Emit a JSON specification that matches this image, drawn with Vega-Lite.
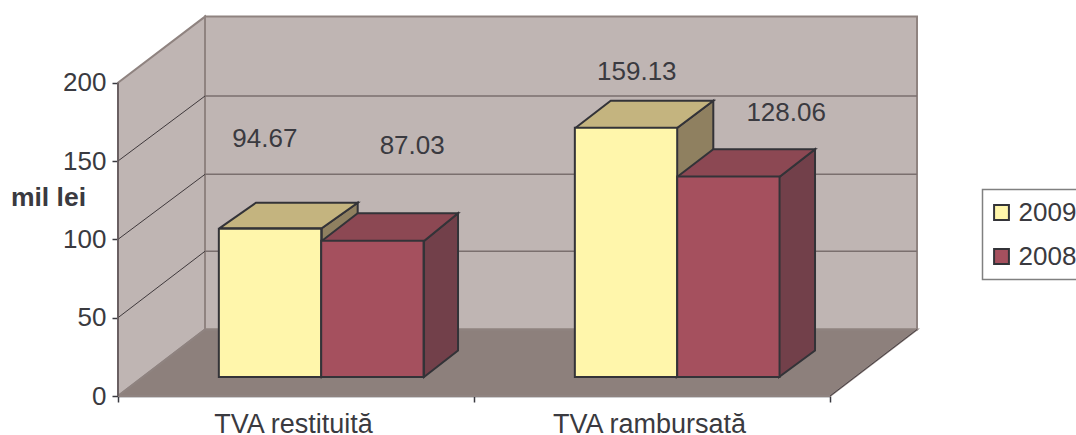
{
"$schema":"https://vega.github.io/schema/vega-lite/v6.json",
"width":799,"height":380,
"autosize":{"type":"none"},
"padding":{"left":118,"top":16,"right":159,"bottom":39},
"background":"white",
"config":{"view":{"stroke":null},"font":"Liberation Sans","text":{"font":"Liberation Sans"},"legend":{"strokeWidth":1.5}},
"datasets":{
"bars":[
{"category":"TVA restituită","series":"2009","value":94.67},
{"category":"TVA restituită","series":"2008","value":87.03},
{"category":"TVA rambursată","series":"2009","value":159.13},
{"category":"TVA rambursată","series":"2008","value":128.06}],
"walls":[
{"shape":"left","kind":"wall","seq":1,"u":0,"v":0},{"shape":"left","kind":"wall","seq":2,"u":0.2444,"v":42.45},{"shape":"left","kind":"wall","seq":3,"u":0.2444,"v":242.2},{"shape":"left","kind":"wall","seq":4,"u":0,"v":200},{"shape":"left","kind":"wall","seq":5,"u":0,"v":0},
{"shape":"back","kind":"wall","seq":1,"u":0.2444,"v":42.45},{"shape":"back","kind":"wall","seq":2,"u":0.2444,"v":242.2},{"shape":"back","kind":"wall","seq":3,"u":2.2444,"v":242.2},{"shape":"back","kind":"wall","seq":4,"u":2.2444,"v":42.45},{"shape":"back","kind":"wall","seq":5,"u":0.2444,"v":42.45},
{"shape":"floor","kind":"floor","seq":1,"u":0,"v":0},{"shape":"floor","kind":"floor","seq":2,"u":0.2444,"v":42.45},{"shape":"floor","kind":"floor","seq":3,"u":2.2444,"v":42.45},{"shape":"floor","kind":"floor","seq":4,"u":2,"v":0},{"shape":"floor","kind":"floor","seq":5,"u":0,"v":0}],
"sideGrid":[
{"line":"50","seq":1,"u":0,"v":50},{"line":"50","seq":2,"u":0.2444,"v":92.4},
{"line":"100","seq":1,"u":0,"v":100},{"line":"100","seq":2,"u":0.2444,"v":141.5},
{"line":"150","seq":1,"u":0,"v":150},{"line":"150","seq":2,"u":0.2444,"v":191.5}],
"backGrid":[
{"line":"50","seq":1,"u":0.2444,"v":92.4},{"line":"50","seq":2,"u":2.2444,"v":92.4},
{"line":"100","seq":1,"u":0.2444,"v":141.5},{"line":"100","seq":2,"u":2.2444,"v":141.5},
{"line":"150","seq":1,"u":0.2444,"v":191.5},{"line":"150","seq":2,"u":2.2444,"v":191.5}],
"faces":[
{"face":"b1side","kind":"yside","seq":1,"u":0.5722,"v":107.05},{"face":"b1side","kind":"yside","seq":2,"u":0.6733,"v":123.4},{"face":"b1side","kind":"yside","seq":3,"u":0.6733,"v":29.05},{"face":"b1side","kind":"yside","seq":4,"u":0.5722,"v":12.13},{"face":"b1side","kind":"yside","seq":5,"u":0.5722,"v":107.05},
{"face":"b1top","kind":"ytop","seq":1,"u":0.2846,"v":107.05},{"face":"b1top","kind":"ytop","seq":2,"u":0.3876,"v":123.4},{"face":"b1top","kind":"ytop","seq":3,"u":0.6733,"v":123.4},{"face":"b1top","kind":"ytop","seq":4,"u":0.5722,"v":107.05},{"face":"b1top","kind":"ytop","seq":5,"u":0.2846,"v":107.05},
{"face":"b2side","kind":"rside","seq":1,"u":0.8596,"v":98.95},{"face":"b2side","kind":"rside","seq":2,"u":0.9551,"v":116.63},{"face":"b2side","kind":"rside","seq":3,"u":0.9551,"v":29.05},{"face":"b2side","kind":"rside","seq":4,"u":0.8596,"v":12.13},{"face":"b2side","kind":"rside","seq":5,"u":0.8596,"v":98.95},
{"face":"b2top","kind":"rtop","seq":1,"u":0.5722,"v":98.95},{"face":"b2top","kind":"rtop","seq":2,"u":0.6733,"v":116.63},{"face":"b2top","kind":"rtop","seq":3,"u":0.9551,"v":116.63},{"face":"b2top","kind":"rtop","seq":4,"u":0.8596,"v":98.95},{"face":"b2top","kind":"rtop","seq":5,"u":0.5722,"v":98.95},
{"face":"b3side","kind":"yside","seq":1,"u":1.5694,"v":170.9},{"face":"b3side","kind":"yside","seq":2,"u":1.6722,"v":188.5},{"face":"b3side","kind":"yside","seq":3,"u":1.6722,"v":29.05},{"face":"b3side","kind":"yside","seq":4,"u":1.5694,"v":12.13},{"face":"b3side","kind":"yside","seq":5,"u":1.5694,"v":170.9},
{"face":"b3top","kind":"ytop","seq":1,"u":1.2837,"v":170.9},{"face":"b3top","kind":"ytop","seq":2,"u":1.384,"v":188.5},{"face":"b3top","kind":"ytop","seq":3,"u":1.6722,"v":188.5},{"face":"b3top","kind":"ytop","seq":4,"u":1.5694,"v":170.9},{"face":"b3top","kind":"ytop","seq":5,"u":1.2837,"v":170.9},
{"face":"b4side","kind":"rside","seq":1,"u":1.8567,"v":139.6},{"face":"b4side","kind":"rside","seq":2,"u":1.9579,"v":157.5},{"face":"b4side","kind":"rside","seq":3,"u":1.9579,"v":29.05},{"face":"b4side","kind":"rside","seq":4,"u":1.8567,"v":12.13},{"face":"b4side","kind":"rside","seq":5,"u":1.8567,"v":139.6},
{"face":"b4top","kind":"rtop","seq":1,"u":1.5694,"v":139.6},{"face":"b4top","kind":"rtop","seq":2,"u":1.6722,"v":157.5},{"face":"b4top","kind":"rtop","seq":3,"u":1.9579,"v":157.5},{"face":"b4top","kind":"rtop","seq":4,"u":1.8567,"v":139.6},{"face":"b4top","kind":"rtop","seq":5,"u":1.5694,"v":139.6}]
},
"resolve":{"scale":{"x":"independent"},"axis":{"x":"independent"}},
"layer":[
{"layer":[
{"data":{"name":"walls"},"mark":{"type":"line","stroke":"#8F8380","strokeWidth":2,"strokeJoin":"miter"},
"encoding":{
"x":{"field":"u","type":"quantitative","scale":{"domain":[0,2.24438],"nice":false,"zero":false},"axis":null},
"y":{"field":"v","type":"quantitative","scale":{"domain":[0,242.58],"nice":false},
"axis":{"values":[0,50,100,150,200],"grid":false,"domain":false,"tickSize":6,"tickColor":"#3A3A40","tickWidth":1.5,"labelFontSize":26,"labelFont":"Liberation Sans","labelColor":"#3A3A40","labelPadding":6,"title":"mil lei","titleAngle":0,"titleFont":"Liberation Sans","titleFontSize":26.5,"titleFontWeight":"bold","titleColor":"#3A3A40","titleX":-70,"titleY":181,"titleAlign":"center","titleBaseline":"middle"}},
"order":{"field":"seq","type":"quantitative"},
"detail":{"field":"shape"},
"fill":{"field":"kind","type":"nominal","scale":{"domain":["wall","floor","yside","ytop","rside","rtop"],"range":["#BFB5B3","#8D807C","#8F8060","#C4B47F","#72404A","#8C4853"]},"legend":null}}},
{"data":{"name":"sideGrid"},"mark":{"type":"line","stroke":"#3F393C","strokeWidth":1},
"encoding":{"x":{"field":"u","type":"quantitative"},"y":{"field":"v","type":"quantitative"},"order":{"field":"seq","type":"quantitative"},"detail":{"field":"line"}}},
{"data":{"name":"backGrid"},"mark":{"type":"line","stroke":"#7A6F6E","strokeWidth":1.5},
"encoding":{"x":{"field":"u","type":"quantitative"},"y":{"field":"v","type":"quantitative"},"order":{"field":"seq","type":"quantitative"},"detail":{"field":"line"}}},
{"data":{"values":[{"u":0,"v":0},{"u":0,"v":200}]},"mark":{"type":"line","stroke":"#5E5558","strokeWidth":1.5},
"encoding":{"x":{"field":"u","type":"quantitative"},"y":{"field":"v","type":"quantitative"}}},
{"data":{"values":[{"u":2,"v":0},{"u":2.2444,"v":42.45}]},"mark":{"type":"line","stroke":"#4A4245","strokeWidth":1},
"encoding":{"x":{"field":"u","type":"quantitative"},"y":{"field":"v","type":"quantitative"}}},
{"data":{"name":"faces"},"mark":{"type":"line","stroke":"#333338","strokeWidth":2,"strokeJoin":"miter"},
"encoding":{"x":{"field":"u","type":"quantitative"},"y":{"field":"v","type":"quantitative"},
"order":{"field":"seq","type":"quantitative"},
"detail":{"field":"face"},
"fill":{"field":"kind","type":"nominal","legend":null}}}
]},
{"data":{"name":"bars"},"mark":{"type":"rule","opacity":0},
"encoding":{"x":{"field":"category","type":"nominal","sort":["TVA restituită","TVA rambursată"],
"scale":{"range":[0,712],"paddingInner":0,"paddingOuter":0},
"axis":{"orient":"bottom","title":null,"labelAngle":0,"tickBand":"extent","tickSize":6,"tickColor":"#3A3A40","tickWidth":1.5,"domainColor":"#3A3A40","domainWidth":1.5,"labelFontSize":27,"labelFont":"Liberation Sans","labelColor":"#3A3A40","labelPadding":9,"labelOffset":-3,"labelLimit":320,"grid":false}}}},
{"data":{"name":"bars"},
"encoding":{
"x":{"field":"category","type":"nominal","sort":["TVA restituită","TVA rambursată"],
"scale":{"range":[25.2,737.2],"paddingInner":0.425,"paddingOuter":0.2125},"axis":null},
"xOffset":{"field":"series","type":"nominal","sort":["2009","2008"]},
"y":{"field":"value","type":"quantitative"}},
"layer":[
{"mark":{"type":"bar","stroke":"#333338","strokeWidth":2,"yOffset":-19,"y2Offset":-19},
"encoding":{"color":{"field":"series","type":"nominal","scale":{"domain":["2009","2008"],"range":["#FFF6AB","#A5505E"]},
"legend":{"title":null,"orient":"none","legendX":864.5,"legendY":173.5,"symbolType":"square","symbolSize":220,"symbolStrokeColor":"#333338","symbolStrokeWidth":2,"symbolOpacity":1,"symbolOffset":-4,"labelFontSize":26,"labelFont":"Liberation Sans","labelColor":"#3A3A40","labelOffset":4,"rowPadding":18,"padding":10,"strokeColor":"#808080","fillColor":"white"}}}},
{"transform":[{"filter":"datum.series=='2009' && datum.category=='TVA restituită'"}],"mark":{"type":"text","fontSize":26,"color":"#3A3A40","baseline":"middle","dx":-5.2,"dy":-109},"encoding":{"text":{"field":"value","format":".2f"}}},
{"transform":[{"filter":"datum.series=='2008' && datum.category=='TVA restituită'"}],"mark":{"type":"text","fontSize":26,"color":"#3A3A40","baseline":"middle","dx":39.8,"dy":-114},"encoding":{"text":{"field":"value","format":".2f"}}},
{"transform":[{"filter":"datum.series=='2009' && datum.category=='TVA rambursată'"}],"mark":{"type":"text","fontSize":26,"color":"#3A3A40","baseline":"middle","dx":10.8,"dy":-75},"encoding":{"text":{"field":"value","format":".2f"}}},
{"transform":[{"filter":"datum.series=='2008' && datum.category=='TVA rambursată'"}],"mark":{"type":"text","fontSize":26,"color":"#3A3A40","baseline":"middle","dx":57.8,"dy":-82},"encoding":{"text":{"field":"value","format":".2f"}}}
]}
]}
